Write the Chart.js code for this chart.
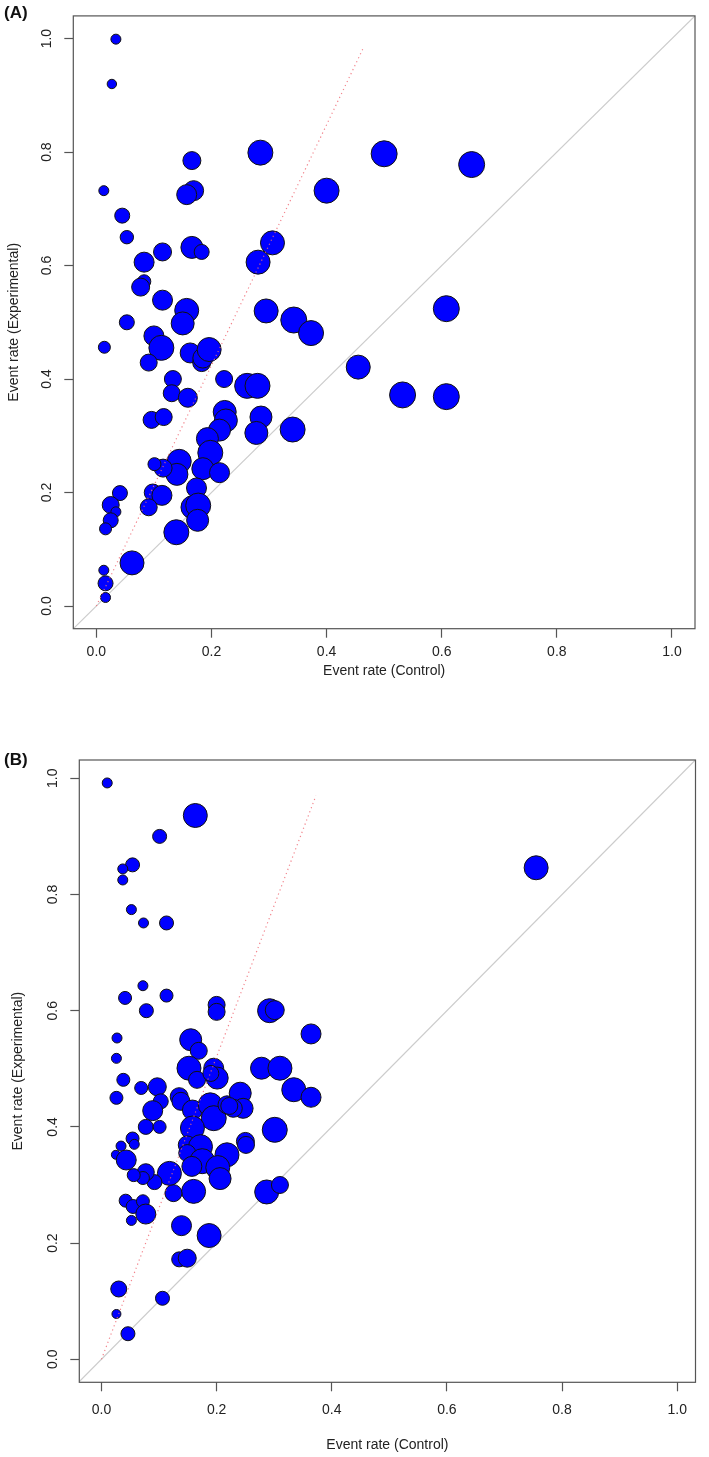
<!DOCTYPE html>
<html>
<head>
<meta charset="utf-8">
<title>Event rate bubble plots</title>
<script src="https://cdn.jsdelivr.net/npm/chart.js@4/dist/chart.umd.min.js"></script>
<style>
  html, body { margin: 0; padding: 0; background: #fff; }
  body { width: 709px; height: 1457px; position: relative; overflow: hidden; }
  canvas { position: absolute; left: 0; }
  #chartA { top: 0; }
  #chartB { top: 700px; }
  .panel { position: absolute; font: bold 17px "Liberation Sans", Arial, sans-serif; color: #111; }
</style>
</head>
<body>
<canvas id="chartA" width="709" height="700"></canvas>
<canvas id="chartB" width="709" height="757"></canvas>
<div class="panel" style="left:4px; top:3px;">(A)</div>
<div class="panel" style="left:4px; top:750px;">(B)</div>
<script>
// Axis ticks shared by both panels
const tickValues = [0, 0.2, 0.4, 0.6, 0.8, 1.0];
const tickLabels = ['0.0', '0.2', '0.4', '0.6', '0.8', '1.0'];

// Panel A - event rates per study (control vs experimental) and bubble size
const controlA = [0.034, 0.027, 0.013, 0.045, 0.053, 0.083, 0.115, 0.166, 0.169, 0.157,
  0.166, 0.183, 0.285, 0.400, 0.306, 0.281, 0.083, 0.077, 0.115, 0.157,
  0.150, 0.053, 0.295, 0.343, 0.373, 0.100, 0.014, 0.113, 0.091, 0.163,
  0.183, 0.185, 0.196, 0.133, 0.131, 0.159, 0.222, 0.262, 0.280, 0.455,
  0.096, 0.117, 0.223, 0.225, 0.214, 0.286, 0.278, 0.341, 0.193, 0.198,
  0.185, 0.214, 0.144, 0.140, 0.116, 0.101, 0.174, 0.167, 0.177, 0.176,
  0.139, 0.098, 0.114, 0.091, 0.041, 0.025, 0.034, 0.025, 0.016, 0.062,
  0.013, 0.016, 0.016, 0.500, 0.652, 0.608, 0.532, 0.608];
const experimentalA = [0.999, 0.920, 0.732, 0.688, 0.650, 0.606, 0.624, 0.785, 0.732, 0.725,
  0.632, 0.624, 0.799, 0.732, 0.640, 0.606, 0.572, 0.562, 0.539, 0.521,
  0.498, 0.500, 0.520, 0.504, 0.481, 0.476, 0.456, 0.455, 0.429, 0.446,
  0.429, 0.437, 0.452, 0.400, 0.375, 0.367, 0.400, 0.388, 0.388, 0.421,
  0.328, 0.333, 0.342, 0.327, 0.310, 0.333, 0.305, 0.311, 0.295, 0.270,
  0.242, 0.235, 0.255, 0.232, 0.243, 0.250, 0.208, 0.174, 0.177, 0.151,
  0.130, 0.200, 0.195, 0.174, 0.199, 0.178, 0.166, 0.151, 0.136, 0.076,
  0.063, 0.040, 0.015, 0.797, 0.778, 0.524, 0.372, 0.369];
const sizeA = [5, 4.7, 5, 7.5, 6.7, 10, 9, 9, 10, 10,
  11, 7.5, 12.5, 12.5, 12, 12, 6.7, 9, 10, 12,
  11.5, 7.5, 12, 13, 12.5, 10, 6, 12.5, 8.5, 10,
  9, 10, 12, 8.5, 8.5, 9.5, 8.5, 12.5, 12.5, 12,
  8.5, 8.5, 11.5, 11.5, 11, 11, 11.5, 12.5, 11, 12.5,
  11, 10, 12, 11, 9, 6.5, 10, 11.5, 12.5, 11,
  12.5, 8.5, 10, 8.5, 7.5, 8.5, 5, 7.5, 6, 12,
  5, 7.5, 5, 13, 13, 13, 13, 13];
const dottedControlA = [0, 0.465];
const dottedExperimentalA = [0, 0.986];

// Panel B
const controlB = [0.010, 0.163, 0.101, 0.054, 0.037, 0.037, 0.052, 0.073, 0.113, 0.072,
  0.041, 0.113, 0.078, 0.200, 0.200, 0.292, 0.301, 0.364, 0.027, 0.155,
  0.169, 0.026, 0.152, 0.166, 0.195, 0.201, 0.278, 0.310, 0.334, 0.364,
  0.038, 0.026, 0.069, 0.097, 0.103, 0.089, 0.135, 0.138, 0.158, 0.189,
  0.195, 0.218, 0.241, 0.246, 0.229, 0.077, 0.101, 0.158, 0.301, 0.250,
  0.251, 0.054, 0.057, 0.034, 0.025, 0.043, 0.149, 0.172, 0.149, 0.218,
  0.175, 0.202, 0.157, 0.206, 0.160, 0.125, 0.118, 0.092, 0.077, 0.072,
  0.056, 0.287, 0.310, 0.042, 0.055, 0.072, 0.077, 0.052, 0.139, 0.187,
  0.135, 0.149, 0.030, 0.106, 0.026, 0.046, 0.755, 0.190, 0.222];
const experimentalB = [0.992, 0.936, 0.900, 0.851, 0.844, 0.825, 0.774, 0.751, 0.751, 0.643,
  0.622, 0.626, 0.600, 0.610, 0.598, 0.600, 0.601, 0.560, 0.553, 0.550,
  0.531, 0.518, 0.501, 0.481, 0.501, 0.484, 0.501, 0.501, 0.464, 0.451,
  0.481, 0.450, 0.467, 0.469, 0.444, 0.428, 0.452, 0.444, 0.429, 0.438,
  0.415, 0.438, 0.458, 0.432, 0.432, 0.400, 0.400, 0.398, 0.395, 0.375,
  0.369, 0.380, 0.370, 0.367, 0.352, 0.343, 0.369, 0.366, 0.355, 0.352,
  0.341, 0.330, 0.332, 0.311, 0.289, 0.286, 0.320, 0.305, 0.322, 0.312,
  0.317, 0.288, 0.300, 0.273, 0.263, 0.272, 0.250, 0.239, 0.230, 0.213,
  0.172, 0.174, 0.121, 0.105, 0.078, 0.044, 0.846, 0.492, 0.436];
const sizeB = [5, 12, 7, 7, 5, 5, 5, 5, 7, 5,
  6.5, 6.5, 7, 8.5, 8.5, 12, 9.5, 10, 5, 11,
  8.5, 5, 12, 8.5, 10, 11, 11, 12, 12, 10,
  6.5, 6.5, 6.5, 9, 7.5, 10, 9, 9, 10, 12,
  12.5, 9, 11, 10, 9, 7.5, 6.5, 12, 12.5, 9,
  8.5, 6.5, 5, 5, 4.5, 10, 9, 12, 8.5, 12,
  12.5, 12, 10, 11, 12, 8.5, 12, 7.5, 8.5, 6.5,
  6.5, 12, 8.5, 6.5, 7, 6.5, 10, 5, 10, 12,
  7.5, 9, 8, 7, 4.5, 7, 12, 8, 8.5];
const dottedControlB = [0, 0.3725];
const dottedExperimentalB = [0, 0.970];

// line of equality, drawn across the whole plotting box
const diagonal = [-0.05, 1.05];

Chart.defaults.font.family = '"Liberation Sans", Arial, sans-serif';
Chart.defaults.font.size = 14;
Chart.defaults.color = '#222';

// R style frame around the plotting region
const boxPlugin = {
  id: 'box',
  afterDraw(chart) {
    const { ctx, chartArea: a } = chart;
    ctx.save();
    ctx.strokeStyle = '#555';
    ctx.lineWidth = 1.2;
    ctx.strokeRect(a.left, a.top, a.right - a.left, a.bottom - a.top);
    ctx.restore();
  }
};

function buildChart(canvasId, cfg) {
  const bubbles = cfg.control.map((c, i) => ({ x: c, y: cfg.experimental[i], r: cfg.size[i] }));
  const axisGrid = { drawOnChartArea: false, drawTicks: true, tickLength: 9, tickColor: '#555', tickWidth: 1.2 };

  return new Chart(document.getElementById(canvasId), {
    type: 'bubble',
    data: {
      datasets: [
        {
          type: 'line',
          data: diagonal.map(v => ({ x: v, y: v })),
          borderColor: '#cccccc',
          borderWidth: 1.2,
          pointRadius: 0,
          order: 3
        },
        {
          data: bubbles,
          backgroundColor: '#0000ff',
          borderColor: '#111',
          borderWidth: 1,
          order: 2
        },
        {
          type: 'line',
          data: cfg.dotX.map((v, i) => ({ x: v, y: cfg.dotY[i] })),
          borderColor: 'rgba(240, 110, 120, 0.85)',
          borderWidth: 1.2,
          borderDash: [1.2, 3.2],
          pointRadius: 0,
          order: 1
        }
      ]
    },
    options: {
      responsive: false,
      animation: false,
      events: [],
      layout: { padding: cfg.padding },
      plugins: {
        legend: { display: false },
        tooltip: { enabled: false }
      },
      scales: {
        x: {
          type: 'linear',
          min: cfg.xMin,
          max: cfg.xMax,
          afterBuildTicks: s => { s.ticks = tickValues.map(v => ({ value: v })); },
          afterFit: s => { s.height = cfg.xAxisHeight; },
          grid: axisGrid,
          border: { display: false },
          ticks: { padding: cfg.xTickPad, maxRotation: 0, callback: (v, i) => tickLabels[i] },
          title: {
            display: true,
            text: 'Event rate (Control)',
            padding: { top: 0, bottom: cfg.xTitlePad }
          }
        },
        y: {
          type: 'linear',
          min: cfg.yMin,
          max: cfg.yMax,
          afterBuildTicks: s => { s.ticks = tickValues.map(v => ({ value: v })); },
          afterFit: s => { s.width = cfg.yAxisWidth; },
          grid: axisGrid,
          border: { display: false },
          ticks: { padding: 7.5, minRotation: 90, crossAlign: 'center', callback: (v, i) => tickLabels[i] },
          title: {
            display: true,
            text: 'Event rate (Experimental)',
            padding: { top: cfg.yTitlePad, bottom: 0 }
          }
        }
      }
    },
    plugins: [boxPlugin]
  });
}

buildChart('chartA', {
  control: controlA, experimental: experimentalA, size: sizeA,
  dotX: dottedControlA, dotY: dottedExperimentalA,
  xMin: -0.04, xMax: 1.04, yMin: -0.04, yMax: 1.04,
  padding: { top: 6, right: 12, left: 0, bottom: 0 },
  yAxisWidth: 73.3, xAxisHeight: 71.3,
  xTickPad: 6, xTitlePad: 20, yTitlePad: 6
});

buildChart('chartB', {
  control: controlB, experimental: experimentalB, size: sizeB,
  dotX: dottedControlB, dotY: dottedExperimentalB,
  xMin: -0.0385, xMax: 1.0318, yMin: -0.0396, yMax: 1.0315,
  padding: { top: 60, right: 7.3, left: 0, bottom: 0 },
  yAxisWidth: 79.3, xAxisHeight: 74.7,
  xTickPad: 10, xTitlePad: 3, yTitlePad: 9.5
});
</script>
</body>
</html>
